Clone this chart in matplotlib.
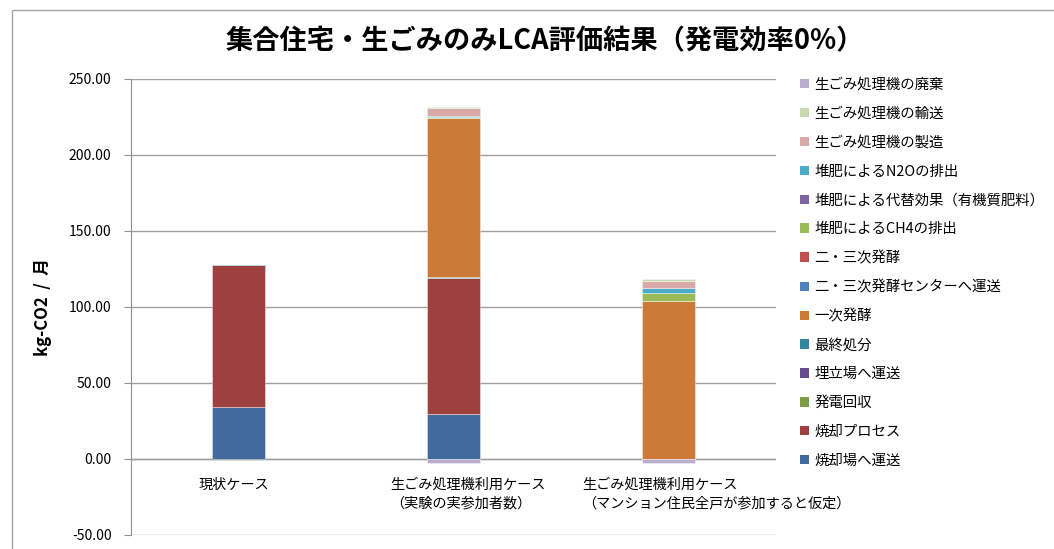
import matplotlib
matplotlib.use("Agg")
import matplotlib.pyplot as plt
from matplotlib.patches import Patch, Rectangle
import numpy as np

plt.rcParams['font.family'] = ['Noto Sans CJK JP', 'DejaVu Sans']

title = "集合住宅・生ごみのみLCA評価結果（発電効率0%）"
ylabel = "kg-CO2  /  月"
categories = ["現状ケース",
              "生ごみ処理機利用ケース\n（実験の実参加者数）",
              "生ごみ処理機利用ケース\n（マンション住民全戸が参加すると仮定）"]

series_names = ["焼却場へ運送", "焼却プロセス", "発電回収", "埋立場へ運送", "最終処分",
                "一次発酵", "二・三次発酵センターへ運送", "二・三次発酵",
                "堆肥によるCH4の排出", "堆肥による代替効果（有機質肥料）", "堆肥によるN2Oの排出",
                "生ごみ処理機の製造", "生ごみ処理機の輸送", "生ごみ処理機の廃棄"]

v_incin_transport = [34.0, 29.3, 0.0]
v_incin_process   = [93.5, 89.9, 0.0]
v_power           = [0.0, 0.0, 0.0]
v_landfill_trans  = [0.1, 0.1, 0.0]
v_final_disposal  = [0.8, 0.6, 0.0]
v_primary_ferm    = [0.0, 104.4, 104.1]
v_secondary_trans = [0.0, 0.2, 0.0]
v_secondary_ferm  = [0.0, 0.0, 0.0]
v_ch4             = [0.0, 0.7, 4.9]
v_substitute      = [0.0, 0.0, 0.0]
v_n2o             = [0.0, 0.6, 3.7]
v_manufacture     = [0.0, 4.8, 4.6]
v_shipping        = [0.0, 1.1, 1.1]
v_disposal        = [0.0, -2.8, -2.8]

series_values = [v_incin_transport, v_incin_process, v_power, v_landfill_trans,
                 v_final_disposal, v_primary_ferm, v_secondary_trans, v_secondary_ferm,
                 v_ch4, v_substitute, v_n2o, v_manufacture, v_shipping, v_disposal]

colors = ["#406A9B", "#9E403E", "#7E9B46", "#654B8B", "#33889E",
          "#CB7A38", "#4F81BD", "#C0504D",
          "#9BBB59", "#8064A2", "#4BACC6",
          "#D9A9A8", "#C8D8B0", "#B8ADCF"]

yticks = [-50, 0, 50, 100, 150, 200, 250]

fig = plt.figure(figsize=(10.54, 5.49), dpi=100)
# chart border
fig.patches.append(Rectangle((12/1054, -0.1), 1.2, 1 - 10/549 + 0.1,
                             transform=fig.transFigure, fill=False,
                             edgecolor="#A6A6A6", lw=1.0))

ax = fig.add_axes([131/1054, 1 - 535/549, 645/1054, (535 - 79)/549])
x = np.arange(len(categories))
pos_base = np.zeros(len(categories))
neg_base = np.zeros(len(categories))
for name, vals, c in zip(series_names, series_values, colors):
    vals = np.array(vals, dtype=float)
    bottom = np.where(vals >= 0, pos_base, neg_base)
    ax.bar(x, vals, width=0.25, bottom=bottom, color=c, edgecolor=(1, 1, 1, 0.45),
           linewidth=0.6, zorder=3)
    pos_base = pos_base + np.where(vals >= 0, vals, 0)
    neg_base = neg_base + np.where(vals < 0, vals, 0)

ax.set_xlim(-0.5, 2.5)
ax.set_ylim(-50, 250)
ax.set_yticks(yticks)
ax.set_yticklabels([f"{t:.2f}" for t in yticks], fontsize=10)
ax.yaxis.grid(True, color="#A0A0A0", lw=1.0, zorder=0)
ax.axhline(0, color="#A0A0A0", lw=1.0, zorder=2)
for s in ["top", "right", "bottom"]:
    ax.spines[s].set_visible(False)
ax.spines["left"].set_color("#909090")
ax.tick_params(axis="y", length=5, color="#909090", pad=9)
ax.set_xticks([])

label_pos = [(-0.021, "center"), (0.705, "left"), (1.598, "left")]
for lab, (px, ha) in zip(categories, label_pos):
    ax.text(px, 0.125, lab, transform=ax.get_xaxis_transform(), ha=ha, va="top",
            fontsize=10.2, multialignment="left", linespacing=1.4)

ax.set_ylabel(ylabel, fontsize=12, fontweight="bold", labelpad=12)

fig.text(545/1054, 1 - 41/549, title, ha="center", va="center",
         fontsize=19.6, fontweight="bold")

handles = [Patch(facecolor=c, edgecolor="none") for c in colors]
leg = fig.legend(handles[::-1], series_names[::-1], loc="upper left",
                 bbox_to_anchor=(794/1054, 1 - 72/549), frameon=False,
                 fontsize=10.4, handlelength=0.62, handleheight=0.62,
                 handletextpad=0.4, labelspacing=1.03, borderaxespad=0)

fig.savefig("out.png", dpi=100)
